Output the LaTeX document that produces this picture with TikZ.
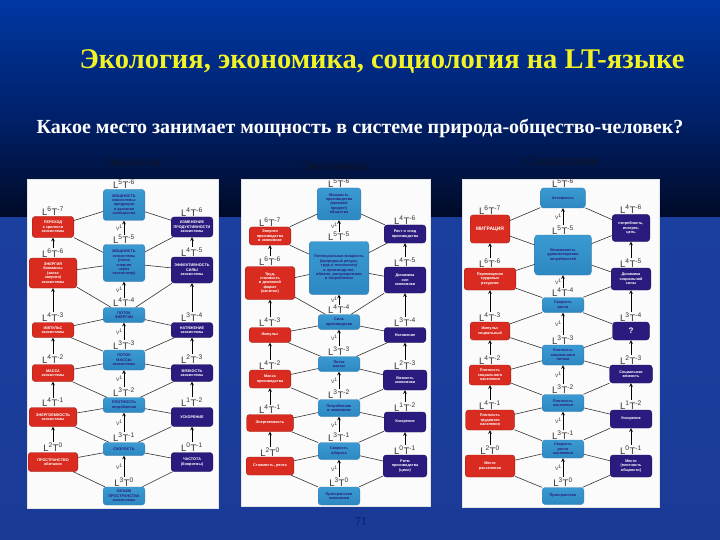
\documentclass[tikz,border=0pt]{standalone}
\usepackage{fontspec}
\setmainfont{Liberation Serif}
\newfontfamily\sansf{Liberation Sans}
\usetikzlibrary{positioning}

\definecolor{slidetop}{HTML}{0037A3}
\definecolor{slidemid}{HTML}{00226E}
\definecolor{slidedark}{HTML}{000A26}
\definecolor{slidelow}{HTML}{1B3F9F}
\definecolor{slidelow2}{HTML}{1A3A96}
\definecolor{titleyellow}{HTML}{F2F226}
\definecolor{headdark}{HTML}{0F1324}
\definecolor{boxred}{HTML}{D92B1F}
\definecolor{boxnavy}{HTML}{2C1B7E}
\definecolor{glasstop}{HTML}{3A9AD2}
\definecolor{glassmid}{HTML}{D6F0FA}
\definecolor{glassbot}{HTML}{2E88C2}
\definecolor{glassline}{HTML}{3B7FB0}
\definecolor{linkgray}{HTML}{333333}

\newcommand\ltdim[2]{L\textsuperscript{#1}T\textsuperscript{#2}}

\tikzset{
  anybox/.style={rounded corners=3pt, align=center, inner xsep=0.8pt, inner ysep=0.5pt,
    font=\sansf\bfseries\fontsize{3.8}{4.4}\selectfont},
  redbox/.style={anybox, fill=boxred, draw=boxred!70!black, text=white},
  navybox/.style={anybox, fill=boxnavy, draw=boxnavy!70!black, text=white},
  glassbox/.style={anybox, top color=glasstop, middle color=glassmid, bottom color=glassbot,
    draw=glassline, text=boxnavy},
  dimlab/.style={inner sep=0.5pt, text=linkgray, font=\sansf\fontsize{9.5}{9.5}\selectfont},
  vlab/.style={left, inner sep=1pt, text=linkgray, font=\sansf\fontsize{5}{5}\selectfont},
  link/.style={draw=linkgray, line width=0.6pt},
  rise/.style={draw=black, line width=0.6pt, -stealth},
  panel/.style={fill=white!97!gray, draw=white!80!gray}
}

\begin{document}
\begin{tikzpicture}[x=1pt, y=-1pt]
  \useasboundingbox (0,0) rectangle (720,540);
  % Slide background.
  \shade[top color=slidetop, bottom color=slidemid] (0,0) rectangle (720,110);
  \shade[top color=slidemid, bottom color=slidedark] (0,110) rectangle (720,218);
  \shade[top color=slidelow, bottom color=slidelow2] (0,218) rectangle (720,540);

  % Headings.
  \node[text=titleyellow, font=\bfseries\fontsize{28.5}{31}\selectfont] (title) at (382,62)
    {Экология, экономика, социология на LT-языке};
  \node[text=white, font=\bfseries\fontsize{20}{23}\selectfont] (question) at (360,128)
    {Какое место занимает мощность в системе природа-общество-человек?};
  \node[text=headdark, font=\fontsize{14}{16}\selectfont] (ecohead) at (133,162) {Экология};
  \node[text=headdark, font=\fontsize{14}{16}\selectfont] (ecnhead) at (335,166) {Экономика};
  \node[text=headdark, font=\fontsize{14}{16}\selectfont] (sochead) at (562,162) {Социология};
  \node[text=slidemid, font=\fontsize{12}{14}\selectfont] (pageno) at (361,522) {71};

  % Three white panels.
  \draw[panel] (27,179) rectangle (218,508);
  \draw[panel] (241,179) rectangle (430,506);
  \draw[panel] (462,179) rectangle (659,507);

  %% Ecology panel.
  % Centre column.
  \foreach \n/\y/\w/\h/\a/\b/\t in {
      1/205/40/31/5/-6/{МОЩНОСТЬ\\экосистемы:\\продукция\\и дыхание\\сообщества},
      2/263/40/37/5/-5/{МОЩНОСТЬ\\экосистемы\\(поток\\энергии\\через\\экосистему)},
      3/315/40/15/4/-4/{ПОТОК\\ЭНЕРГИИ},
      4/360/40/20/3/-3/{ПОТОК\\МАССЫ\\экосистемы},
      5/405/40/15/3/-2/{ПЛОТНОСТЬ\\потребления},
      6/449/40/13/3/-1/{СКОРОСТЬ},
      7/496/40/18/3/0/{ОБЪЕМ\\ПРОСТРАНСТВА\\экосистемы}}{
    \node[glassbox, text width=\w pt, minimum height=\h pt] (ecoC\n) at (124,\y) {\t};
    \node[dimlab, above=0pt of ecoC\n] (ecoCd\n) {\ltdim{\a}{\b}};
  }
  % Left column.
  \foreach \n/\y/\w/\h/\a/\b/\t in {
      1/227/40/21/6/-7/{ПЕРЕХОД\\к зрелости\\экосистемы},
      2/273/46/30/6/-6/{ЭНЕРГИЯ\\биомассы\\(запас\\энергии)\\экосистемы},
      3/330/40/15/4/-3/{ИМПУЛЬС\\экосистемы},
      4/373/40/17/4/-2/{МАССА\\экосистемы},
      5/417/46/19/4/-1/{ЭНЕРГОЕМКОСТЬ\\экосистемы},
      6/462/48/19/2/0/{ПРОСТРАНСТВО\\обитания}}{
    \node[redbox, text width=\w pt, minimum height=\h pt] (ecoL\n) at (53,\y) {\t};
    \node[dimlab, above=0pt of ecoL\n] (ecoLd\n) {\ltdim{\a}{\b}};
  }
  % Right column.
  \foreach \n/\y/\w/\h/\a/\b/\t in {
      1/227/40/20/4/-6/{ИЗМЕНЕНИЕ\\ПРОДУКТИВНОСТИ\\экосистемы},
      2/270/40/26/4/-5/{ЭФФЕКТИВНОСТЬ\\СИЛЫ\\экосистемы},
      3/330/40/15/3/-4/{НАТЯЖЕНИЕ\\экосистемы},
      4/373/40/17/2/-3/{ВЯЗКОСТЬ\\экосистемы},
      5/417/40/19/1/-2/{УСКОРЕНИЕ},
      6/462/40/19/0/-1/{ЧАСТОТА\\(биоритмы)}}{
    \node[navybox, text width=\w pt, minimum height=\h pt] (ecoR\n) at (192,\y) {\t};
    \node[dimlab, above=0pt of ecoR\n] (ecoRd\n) {\ltdim{\a}{\b}};
  }
  % Zigzag links and upward arrows.
  \foreach \i [evaluate=\i as \j using int(\i+1)] in {1,...,6}{
    \draw[link] (ecoC\i) -- (ecoL\i) -- (ecoC\j);
    \draw[link] (ecoC\i) -- (ecoR\i) -- (ecoC\j);
    \draw[rise] (ecoCd\j) -- node[vlab]{V\textsuperscript{1}} (ecoC\i);
  }
  \foreach \i [evaluate=\i as \j using int(\i+1)] in {1,...,5}{
    \draw[rise] (ecoLd\j) -- (ecoL\i);
    \draw[rise] (ecoRd\j) -- (ecoR\i);
  }

  %% Economics panel.
  % Centre column.
  \foreach \n/\y/\w/\h/\a/\b/\t in {
      1/204/42/32/5/-6/{Мощность\\производства\\(валовой\\продукт)\\общества},
      2/268/58/53/5/-5/{Потенциальная мощность\\(природный ресурс,\\труд и технологии)\\в производстве,\\обмене, распределении\\и потреблении},
      3/322/40/15/4/-4/{Сила\\производства},
      4/364/40/15/3/-3/{Поток\\массы},
      5/408/40/17/3/-2/{Потребление\\в экономике},
      6/451/40/17/3/-1/{Скорость\\оборота},
      7/496/40/18/3/0/{Пространство\\экономики}}{
    \node[glassbox, text width=\w pt, minimum height=\h pt] (ecnC\n) at (339,\y) {\t};
    \node[dimlab, above=0pt of ecnC\n] (ecnCd\n) {\ltdim{\a}{\b}};
  }
  % Left column.
  \foreach \n/\y/\w/\h/\a/\b/\t in {
      1/236/40/18/6/-7/{Энергия\\производства\\в экономике},
      2/283/48/33/6/-6/{Труд,\\стоимость\\в денежной\\форме\\(капитал)},
      3/335/40/15/4/-3/{Импульс},
      4/379/40/18/4/-2/{Масса\\производства},
      5/423/45/17/4/-1/{Энергоемкость},
      6/466/46/18/2/0/{Стоимость, рента}}{
    \node[redbox, text width=\w pt, minimum height=\h pt] (ecnL\n) at (270,\y) {\t};
    \node[dimlab, above=0pt of ecnL\n] (ecnLd\n) {\ltdim{\a}{\b}};
  }
  % Right column.
  \foreach \n/\y/\w/\h/\a/\b/\t in {
      1/234/40/18/4/-6/{Рост и спад\\производства},
      2/280/40/26/4/-5/{Динамика\\сил\\экономики},
      3/335/40/15/3/-4/{Натяжение},
      4/380/42/20/2/-3/{Вязкость\\экономики},
      5/422/40/20/1/-2/{Ускорение},
      6/466/42/22/0/-1/{Ритм\\производства\\(цикл)}}{
    \node[navybox, text width=\w pt, minimum height=\h pt] (ecnR\n) at (405,\y) {\t};
    \node[dimlab, above=0pt of ecnR\n] (ecnRd\n) {\ltdim{\a}{\b}};
  }
  % Zigzag links and upward arrows.
  \foreach \i [evaluate=\i as \j using int(\i+1)] in {1,...,6}{
    \draw[link] (ecnC\i) -- (ecnL\i) -- (ecnC\j);
    \draw[link] (ecnC\i) -- (ecnR\i) -- (ecnC\j);
    \draw[rise] (ecnCd\j) -- node[vlab]{V\textsuperscript{1}} (ecnC\i);
  }
  \foreach \i [evaluate=\i as \j using int(\i+1)] in {1,...,5}{
    \draw[rise] (ecnLd\j) -- (ecnL\i);
    \draw[rise] (ecnRd\j) -- (ecnR\i);
  }

  %% Sociology panel.
  % Centre column.
  \foreach \n/\y/\w/\h/\a/\b/\t in {
      1/198/43/20/5/-6/{Активность},
      2/255/55/40/5/-5/{Возможность\\удовлетворения\\потребностей},
      3/305/40/15/4/-4/{Скорость\\роста},
      4/355/40/20/3/-3/{Плотность\\социального\\потока},
      5/403/40/17/3/-2/{Плотность\\населения},
      6/449/40/18/3/-1/{Скорость\\роста\\населения},
      7/496/40/17/3/0/{Пространство}}{
    \node[glassbox, text width=\w pt, minimum height=\h pt] (socC\n) at (563,\y) {\t};
    \node[dimlab, above=0pt of socC\n] (socCd\n) {\ltdim{\a}{\b}};
  }
  % Left column.
  \foreach \n/\y/\w/\h/\a/\b/\t in {
      1/229/38/28/6/-7/{\fontsize{5}{6}\selectfont МИГРАЦИЯ},
      2/279/50/22/6/-6/{Перемещение\\трудовых\\ресурсов},
      3/331/38/18/4/-3/{Импульс\\социальный},
      4/375/40/20/4/-2/{Плотность\\социального\\населения},
      5/420/47/20/4/-1/{Плотность\\трудового\\населения},
      6/466/48/22/2/0/{Место\\расселения}}{
    \node[redbox, text width=\w pt, minimum height=\h pt] (socL\n) at (490,\y) {\t};
    \node[dimlab, above=0pt of socL\n] (socLd\n) {\ltdim{\a}{\b}};
  }
  % Right column.
  \foreach \n/\y/\w/\h/\a/\b/\t in {
      1/228/36/27/4/-6/{потребность,\\интерес,\\цель},
      2/279/38/22/4/-5/{Динамика\\социальной\\силы},
      3/331/35/18/3/-4/{\fontsize{8}{8}\selectfont ?},
      4/374/41/18/2/-3/{Социальная\\вязкость},
      5/419/40/18/1/-2/{Ускорение},
      6/466/40/22/0/-1/{Место\\(плотность\\общности)}}{
    \node[navybox, text width=\w pt, minimum height=\h pt] (socR\n) at (631,\y) {\t};
    \node[dimlab, above=0pt of socR\n] (socRd\n) {\ltdim{\a}{\b}};
  }
  % Zigzag links and upward arrows.
  \foreach \i [evaluate=\i as \j using int(\i+1)] in {1,...,6}{
    \draw[link] (socC\i) -- (socL\i) -- (socC\j);
    \draw[link] (socC\i) -- (socR\i) -- (socC\j);
    \draw[rise] (socCd\j) -- node[vlab]{V\textsuperscript{1}} (socC\i);
  }
  \foreach \i [evaluate=\i as \j using int(\i+1)] in {1,...,5}{
    \draw[rise] (socLd\j) -- (socL\i);
    \draw[rise] (socRd\j) -- (socR\i);
  }
\end{tikzpicture}
\end{document}
